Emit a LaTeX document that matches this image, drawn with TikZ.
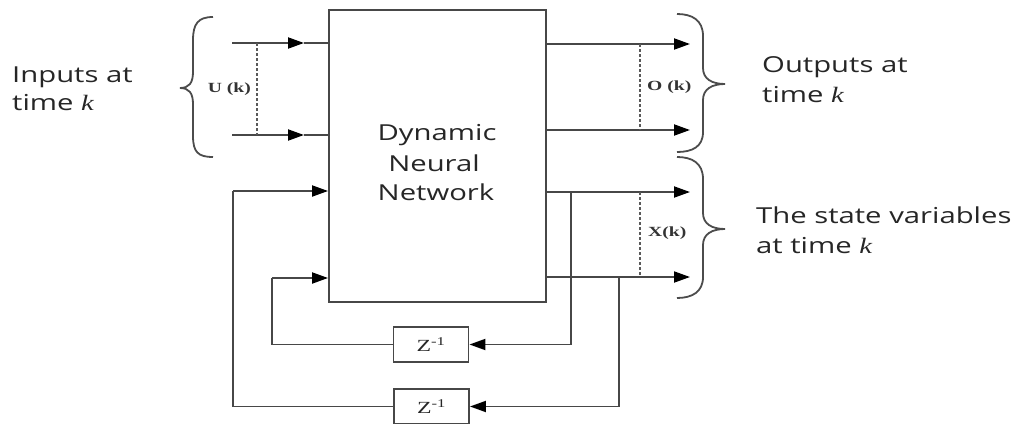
\documentclass[tikz,border=0pt]{standalone}
\usepackage{fontspec}
\setmainfont{Open Sans}
\newfontfamily\widesans[FakeStretch=1.33]{Open Sans}
\newfontfamily\kserif[FakeStretch=1.3]{Liberation Serif}
\newfontfamily\serifl[FakeStretch=1.4]{Liberation Serif}
\newcommand{\kk}{{\kserif\itshape k}}
\usetikzlibrary{arrows.meta}
\begin{document}
\begin{tikzpicture}[x=1pt,y=-1pt,
  wire/.style={draw=black!72,line width=1.9pt},
  arr/.style={wire,-{Triangle[length=16pt,width=11pt,color=black]}},
  dotline/.style={draw=black!65,line width=1.7pt,dash pattern=on 3pt off 2pt},
  brace/.style={draw=black!70,line width=1.8pt},
  lbl/.style={font=\widesans\fontsize{22}{26}\selectfont,text=black!85,inner sep=0pt,anchor=base west},
  mid/.style={font=\widesans\fontsize{22}{26}\selectfont,text=black!85,inner sep=0pt,anchor=base},
  sig/.style={font=\serifl\bfseries\fontsize{14}{16}\selectfont,text=black!80,inner sep=0pt},
  zbox/.style={draw=black!72,line width=1.9pt,minimum width=75pt,minimum height=35pt,inner sep=0pt,font=\serifl\fontsize{17}{19}\selectfont,text=black!85},
  dnnbox/.style={draw=black!72,line width=1.9pt,minimum width=217pt,minimum height=292pt,inner sep=0pt}
]
\useasboundingbox (0,0) rectangle (1024,423);
% main box
\node[dnnbox] (dnn) at (437.5,156) {};
\node[mid] (t1) at (437,140) {Dynamic};
\node[mid] (t2) at (434,171) {Neural};
\node[mid] (t3) at (436,200) {Network};
% delay boxes
\node[zbox] (z1) at (431,344.5) {Z\textsuperscript{-1}};
\node[zbox] (z2) at (431.5,406.5) {Z\textsuperscript{-1}};
% inputs
\coordinate (u1s) at (232,43);
\coordinate (u1m) at (304,43);
\coordinate (u2s) at (232,135);
\coordinate (u2m) at (304,135);
\draw[arr] (u1s) -- (u1m);
\draw[wire] (u1m) -- (dnn.west |- u1m);
\draw[arr] (u2s) -- (u2m);
\draw[wire] (u2m) -- (dnn.west |- u2m);
\coordinate (ud1) at (257,43);
\coordinate (ud2) at (257,135);
\draw[dotline] (ud1) -- (ud2);
\node[sig,anchor=east] (ulab) at (251,89) {U (k)};
% outputs
\coordinate (o1e) at (690,44);
\coordinate (o2e) at (690,130);
\draw[arr] (dnn.east |- o1e) -- (o1e);
\draw[arr] (dnn.east |- o2e) -- (o2e);
\coordinate (od1) at (640,44);
\coordinate (od2) at (640,130);
\draw[dotline] (od1) -- (od2);
\node[sig,anchor=west] (olab) at (647,87) {O (k)};
% states
\coordinate (x1e) at (690,192);
\coordinate (x2e) at (690,277);
\draw[arr] (dnn.east |- x1e) -- (x1e);
\draw[arr] (dnn.east |- x2e) -- (x2e);
\coordinate (xd1) at (640,192);
\coordinate (xd2) at (640,277);
\draw[dotline] (xd1) -- (xd2);
\node[sig,anchor=west] (xlab) at (648,233) {X(k)};
% feedback 1
\coordinate (j1) at (571,192);
\coordinate (j1b) at (571,344.5);
\draw[wire] (j1) -- (j1b);
\draw[arr] (j1b) -- (z1.east);
\coordinate (f1a) at (272,344.5);
\coordinate (f1b) at (272,278);
\draw[wire] (z1.west) -- (f1a) -- (f1b);
\draw[arr] (f1b) -- (dnn.west |- f1b);
% feedback 2
\coordinate (j2) at (619,277);
\coordinate (j2b) at (619,406.5);
\draw[wire] (j2) -- (j2b);
\draw[arr] (j2b) -- (z2.east);
\coordinate (f2a) at (233,406.5);
\coordinate (f2b) at (233,191);
\draw[wire] (z2.west) -- (f2a) -- (f2b);
\draw[arr] (f2b) -- (dnn.west |- f2b);
% braces
\draw[brace] (213,17) .. controls (198,17) and (193,24) .. (193,40) -- (193,72)
  .. controls (193,83) and (189,88) .. (180,88)
  .. controls (189,88) and (193,93) .. (193,104) -- (193,136)
  .. controls (193,152) and (198,157) .. (213,157);
\draw[brace] (677,14) .. controls (692,14) and (703,20) .. (703,36) -- (703,68)
  .. controls (703,79) and (712,84) .. (725,84)
  .. controls (712,84) and (703,89) .. (703,100) -- (703,132)
  .. controls (703,147) and (692,152) .. (677,152);
\draw[brace] (677,157) .. controls (692,157) and (703,163) .. (703,179) -- (703,213)
  .. controls (703,224) and (712,229) .. (725,229)
  .. controls (712,229) and (703,234) .. (703,245) -- (703,277)
  .. controls (703,292) and (692,298) .. (677,298);
% side labels
\node[lbl] (in1) at (12,82) {Inputs at};
\node[lbl] (in2) at (12,110) {time \kk};
\node[lbl] (out1) at (762,72) {Outputs at};
\node[lbl] (out2) at (762,102) {time \kk};
\node[lbl] (st1) at (756,223) {The state variables};
\node[lbl] (st2) at (756,253) {at time \kk};
\end{tikzpicture}
\end{document}
